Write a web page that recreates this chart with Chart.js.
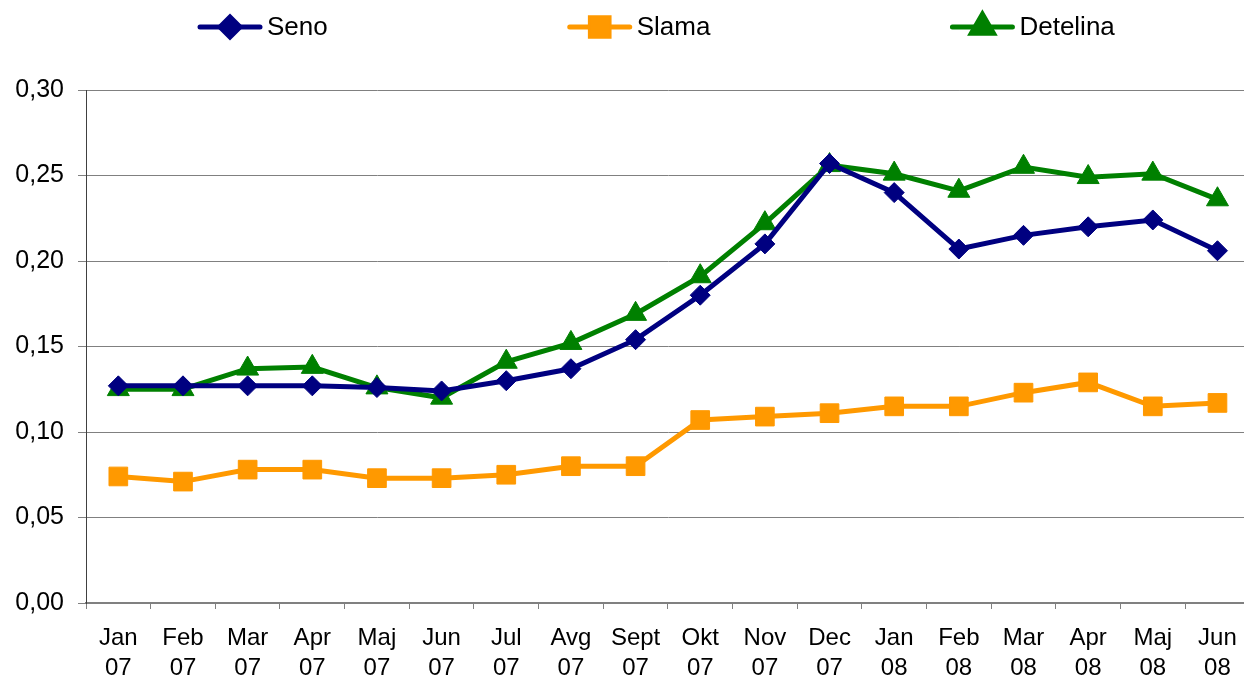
<!DOCTYPE html>
<html>
<head>
<meta charset="utf-8">
<script src="https://cdn.jsdelivr.net/npm/chart.js@4/dist/chart.umd.min.js"></script>
<style>
  html, body { margin: 0; padding: 0; background: #fff; overflow: hidden; }
  #wrap { width: 1264px; height: 677px; position: relative; }
</style>
</head>
<body>
<div id="wrap"><canvas id="c"></canvas></div>
<script>
const categories = [
  ['Jan','07'],['Feb','07'],['Mar','07'],['Apr','07'],['Maj','07'],['Jun','07'],
  ['Jul','07'],['Avg','07'],['Sept','07'],['Okt','07'],['Nov','07'],['Dec','07'],
  ['Jan','08'],['Feb','08'],['Mar','08'],['Apr','08'],['Maj','08'],['Jun','08']
];
const seno = [0.127, 0.127, 0.127, 0.127, 0.126, 0.124, 0.130, 0.137, 0.154, 0.180, 0.210, 0.257, 0.240, 0.207, 0.215, 0.220, 0.224, 0.206];
const slama = [0.074, 0.071, 0.078, 0.078, 0.073, 0.073, 0.075, 0.080, 0.080, 0.107, 0.109, 0.111, 0.115, 0.115, 0.123, 0.129, 0.115, 0.117];
const detelina = [0.125, 0.125, 0.137, 0.138, 0.126, 0.120, 0.141, 0.152, 0.169, 0.191, 0.222, 0.256, 0.251, 0.241, 0.255, 0.249, 0.251, 0.236];
const yTicks = [0, 0.05, 0.10, 0.15, 0.20, 0.25, 0.30];

const FONT = '"Liberation Sans", Arial, sans-serif';

const legendPlugin = {
  id: 'customLegend',
  afterDraw(chart) {
    const ctx = chart.ctx;
    ctx.save();
    ctx.font = '26px ' + FONT;
    ctx.textBaseline = 'middle';
    let x = 198;
    const y = 27;
    const gap = 240;
    chart.data.datasets.forEach(ds => {
      ctx.strokeStyle = ds.borderColor;
      ctx.lineWidth = 5;
      ctx.lineCap = 'round';
      ctx.beginPath();
      ctx.moveTo(x + 2, y);
      ctx.lineTo(x + 62, y);
      ctx.stroke();
      Chart.helpers.drawPoint(ctx, {
        pointStyle: ds.pointStyle,
        radius: ds.pointRadius,
        borderWidth: 1
      }, x + 32, y);
      ctx.fillStyle = ds.borderColor;
      ctx.fill();
      ctx.fillStyle = '#000';
      ctx.fillText(ds.label, x + 69, y + 1);
      const w = 69 + ctx.measureText(ds.label).width;
      x += w + gap;
    });
    ctx.restore();
  }
};

new Chart(document.getElementById('c'), {
  type: 'line',
  data: {
    labels: categories,
    datasets: [
      { label: 'Seno', data: seno, borderColor: '#000080', backgroundColor: '#000080',
        pointStyle: 'rectRot', pointRadius: 10, borderWidth: 5, pointBorderWidth: 1 },
      { label: 'Slama', data: slama, borderColor: '#FF9900', backgroundColor: '#FF9900',
        pointStyle: 'rect', pointRadius: 13.2, borderWidth: 5, pointBorderWidth: 1 },
      { label: 'Detelina', data: detelina, borderColor: '#008000', backgroundColor: '#008000',
        pointStyle: 'triangle', pointRadius: 12.7, borderWidth: 5, pointBorderWidth: 1 }
    ]
  },
  options: {
    responsive: true,
    maintainAspectRatio: false,
    animation: false,
    layout: { padding: { top: 90, left: 0, right: 0, bottom: 0 } },
    plugins: { legend: { display: false }, tooltip: { enabled: false } },
    elements: { line: { tension: 0 } },
    scales: {
      x: {
        type: 'category',
        offset: true,
        grid: { offset: true, drawOnChartArea: false, drawTicks: true, tickLength: 6, color: '#808080', lineWidth: 1 },
        border: { color: '#808080', width: 2 },
        ticks: { color: '#000', font: { family: FONT, size: 24, lineHeight: 1.25 }, padding: 14, maxRotation: 0, autoSkip: false },
        afterFit(scale) { scale.height = 74; }
      },
      y: {
        min: 0, max: 0.30,
        afterBuildTicks(scale) { scale.ticks = yTicks.map(v => ({ value: v })); },
        grid: { color: '#808080', lineWidth: 1, tickLength: 8, drawTicks: true },
        border: { color: '#404040', width: 1 },
        ticks: {
          color: '#000', font: { family: FONT, size: 25 }, padding: 14,
          callback: v => v.toFixed(2).replace('.', ',')
        },
        afterFit(scale) { scale.width = 86; }
      }
    }
  },
  plugins: [legendPlugin]
});
</script>
</body>
</html>
